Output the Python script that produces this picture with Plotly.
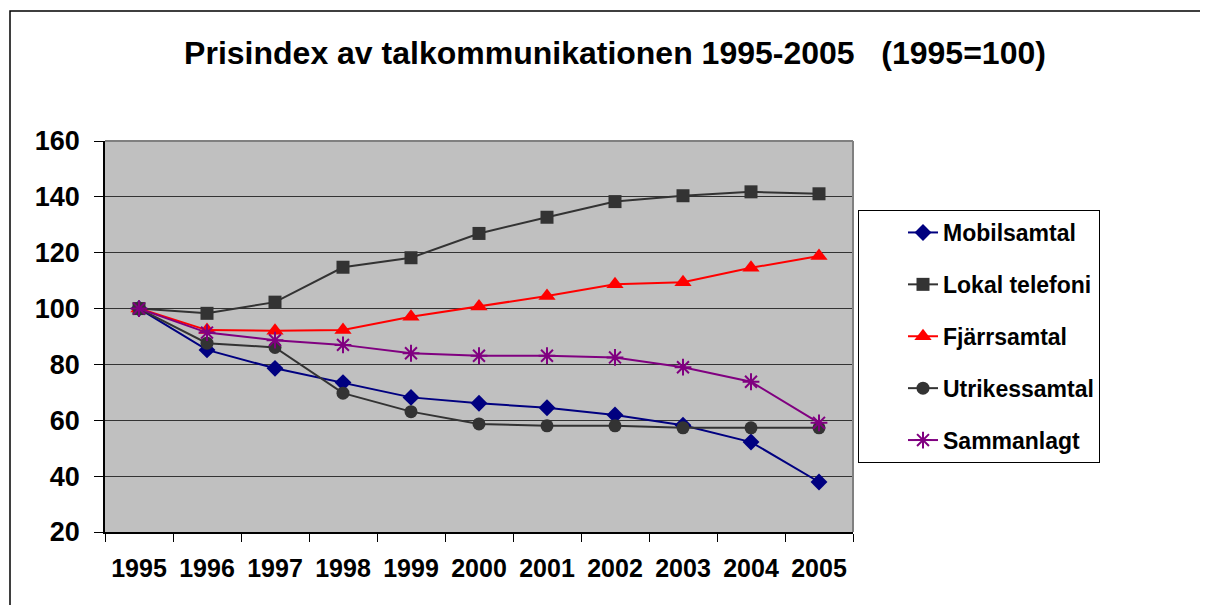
import plotly.graph_objects as go

years = ["1995", "1996", "1997", "1998", "1999", "2000", "2001", "2002", "2003", "2004", "2005"]

mobilsamtal = [100, 85.2, 78.6, 73.5, 68.2, 66.1, 64.5, 61.9, 58.2, 52.2, 37.9]
lokal_telefoni = [100, 98.3, 102.3, 114.8, 118.2, 126.9, 132.7, 138.3, 140.4, 141.8, 141.1]
fjarrsamtal = [100, 92.3, 92.1, 92.3, 97.1, 100.7, 104.5, 108.7, 109.4, 114.6, 118.8]
utrikessamtal = [100, 87.6, 86.1, 69.7, 63.1, 58.7, 58.0, 58.0, 57.3, 57.3, 57.3]
sammanlagt = [100, 91.4, 88.7, 87.0, 84.0, 83.1, 83.1, 82.5, 79.0, 73.8, 59.1]

y_ticks = [20, 40, 60, 80, 100, 120, 140, 160]

# page body margin offset
OFF = 8
W, H = 1208 - OFF, 605 - OFF
L, R, T, B = 105 - OFF, 853 - OFF, 141 - OFF, 532 - OFF


def px(x):
    return (x - OFF - L) / (R - L)


def py(y):
    return (B - (y - OFF)) / (B - T)


FONT = "Liberation Sans, Arial, sans-serif"

series = [
    ("Mobilsamtal", mobilsamtal, "#000080", "diamond", 13, "#000080"),
    ("Lokal telefoni", lokal_telefoni, "#333333", "square", 13, "#333333"),
    ("Fjärrsamtal", fjarrsamtal, "#FF0000", "triangle-up", 15, "#FF0000"),
    ("Utrikessamtal", utrikessamtal, "#333333", "circle", 13, "#333333"),
    ("Sammanlagt", sammanlagt, "#800080", "asterisk-open", 14, "#800080"),
]

fig = go.Figure()
for i, (name, vals, col, sym, size, mcol) in enumerate(series):
    fig.add_trace(go.Scatter(
        x=years, y=vals, name=name, mode="lines+markers",
        line=dict(color=col, width=2),
        marker=dict(symbol=sym, size=size, color=mcol,
                    line=dict(color=mcol, width=2 if sym == "asterisk-open" else 0)),
        legendgroup=f"g{i}",
    ))

fig.update_layout(
    width=W, height=H,
    margin=dict(l=L, r=W - R, t=T, b=H - B, pad=0),
    paper_bgcolor="white",
    plot_bgcolor="#C0C0C0",
    font=dict(family=FONT, color="black"),
    title=dict(
        text="Prisindex av talkommunikationen 1995-2005&nbsp;&nbsp;&nbsp;(1995=100)",
        font=dict(family=FONT, size=32, weight="bold", color="black"),
        x=(615 - OFF) / W, xref="container", xanchor="center",
        y=1 - (53 - OFF) / H, yref="container", yanchor="middle",
    ),
    showlegend=True,
    legend=dict(
        x=px(858), y=py(210), xanchor="left", yanchor="top",
        bgcolor="white", bordercolor="black", borderwidth=1,
        font=dict(family=FONT, size=23, weight="bold", color="black"),
        traceorder="grouped", tracegroupgap=19,
        indentation=44,
        itemsizing="trace",
        entrywidth=175, entrywidthmode="pixels",
    ),
    xaxis=dict(
        type="category", categoryorder="array", categoryarray=years,
        tickson="boundaries", ticks="outside", ticklen=8, tickcolor="black",
        showline=True, linecolor="black", linewidth=1.5,
        showgrid=False, zeroline=False,
        tickfont=dict(family=FONT, size=25, weight="bold", color="black"),
        ticklabelstandoff=13,
        range=[-0.5, len(years) - 0.5],
    ),
    yaxis=dict(
        range=[20, 160], tickvals=y_ticks, ticks="outside", ticklen=9, tickcolor="black",
        showline=True, linecolor="black", linewidth=1.5,
        showgrid=True, gridcolor="#333333", gridwidth=1.3, zeroline=False,
        tickfont=dict(family=FONT, size=27, weight="bold", color="black"),
        ticklabelstandoff=9,
    ),
    shapes=[
        dict(type="line", xref="paper", yref="paper", x0=0, x1=1, y0=1, y1=1,
             line=dict(color="#808080", width=2), layer="above"),
        dict(type="line", xref="paper", yref="paper", x0=1, x1=1, y0=0, y1=1,
             line=dict(color="#808080", width=2), layer="above"),
        dict(type="rect", xref="paper", yref="paper",
             x0=px(10), x1=px(1230), y0=py(11), y1=py(630),
             line=dict(color="black", width=1.5), fillcolor="rgba(0,0,0,0)", layer="above"),
    ],
)

fig.write_html("out.html")
